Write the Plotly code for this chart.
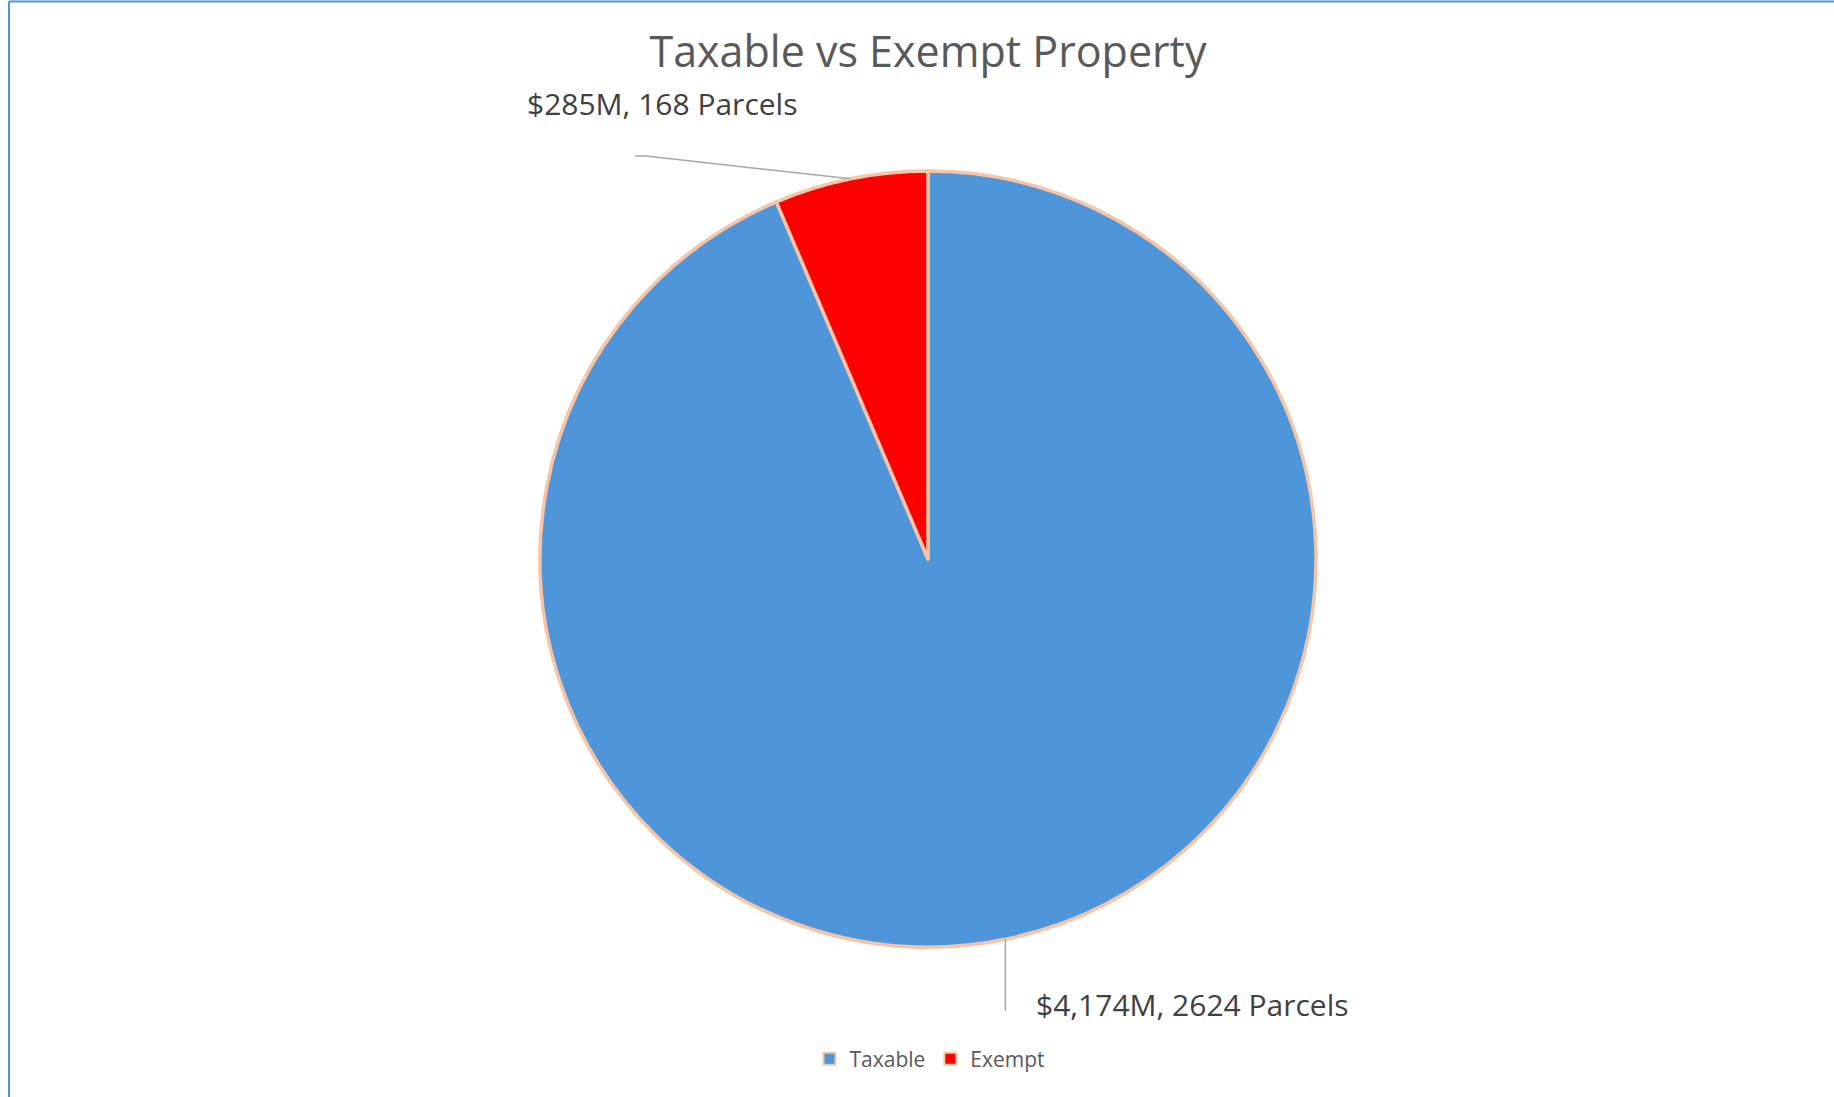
import math
import plotly.graph_objects as go

# ---- data ----
categories = ["Taxable", "Exempt"]
value_millions = [4174, 285]
parcel_counts = [2624, 168]
slice_colors = ["#4F95D9", "#FF0000"]

W, H = 1834, 1097
CX, CY, R = 928, 559, 388  # pie centre / radius in pixels (layout)

label_texts = [f"${v:,}M, {p} Parcels" for v, p in zip(value_millions, parcel_counts)]

fig = go.Figure(go.Pie(
    labels=categories,
    values=value_millions,
    sort=False,
    direction="clockwise",
    rotation=0,
    textinfo="none",
    hoverinfo="label+value",
    marker=dict(colors=slice_colors, line=dict(color="#F6C4A6", width=3.5)),
    domain=dict(x=[(CX - R) / W, (CX + R) / W],
                y=[(H - CY - R) / H, (H - CY + R) / H]),
))

def px(x):
    return x / W

def py(y):
    return 1 - y / H

# slice mid angles from the data
total = sum(value_millions)
mids = []
acc = 0
for v in value_millions:
    mids.append((acc + v / 2) / total * 2 * math.pi)
    acc += v

def edge(theta):
    return CX + R * math.sin(theta), CY - R * math.cos(theta)

shapes = []
annotations = []

# Taxable label (bottom, vertical leader)
ex, ey = edge(mids[0])
shapes.append(dict(type="line", xref="paper", yref="paper",
                   x0=px(ex), y0=py(ey), x1=px(ex), y1=py(1011),
                   line=dict(color="#A6A6A6", width=1.5)))
annotations.append(dict(text=label_texts[0], xref="paper", yref="paper",
                        x=px(1034), y=py(1004), xanchor="left", yanchor="middle",
                        showarrow=False, font=dict(size=30, color="#404040")))

# Exempt label (top left, bent leader)
ex, ey = edge(mids[1])
shapes.append(dict(type="path", xref="paper", yref="paper",
                   path=f"M {px(635)} {py(156)} L {px(646)} {py(156)} L {px(ex)} {py(ey)}",
                   line=dict(color="#A6A6A6", width=1.5)))
annotations.append(dict(text=label_texts[1], xref="paper", yref="paper",
                        x=px(525), y=py(104), xanchor="left", yanchor="middle",
                        showarrow=False, font=dict(size=30, color="#404040")))

# outer chart-area border (left and top visible)
shapes.append(dict(type="line", xref="paper", yref="paper",
                   x0=px(9), y0=0, x1=px(9), y1=py(1.5),
                   line=dict(color="#4F95D9", width=2)))
shapes.append(dict(type="line", xref="paper", yref="paper",
                   x0=px(9), y0=py(1.5), x1=1, y1=py(1.5),
                   line=dict(color="#4F95D9", width=2)))

fig.update_layout(
    width=W, height=H,
    margin=dict(l=0, r=0, t=0, b=0),
    paper_bgcolor="white",
    plot_bgcolor="white",
    font=dict(family="Open Sans, Noto Sans, sans-serif", color="#595959"),
    title=dict(text="Taxable vs Exempt Property", x=px(928), xanchor="center",
               y=py(52), yanchor="middle", yref="container",
               font=dict(size=43, color="#595959")),
    showlegend=True,
    legend=dict(orientation="h", x=px(930), xanchor="center",
                y=py(1059), yanchor="middle",
                font=dict(size=21, color="#595959"),
                itemsizing="constant"),
    shapes=shapes,
    annotations=annotations,
)

fig.write_html("out.html", config={"displayModeBar": False},
               post_script="document.body.style.margin='0';")
